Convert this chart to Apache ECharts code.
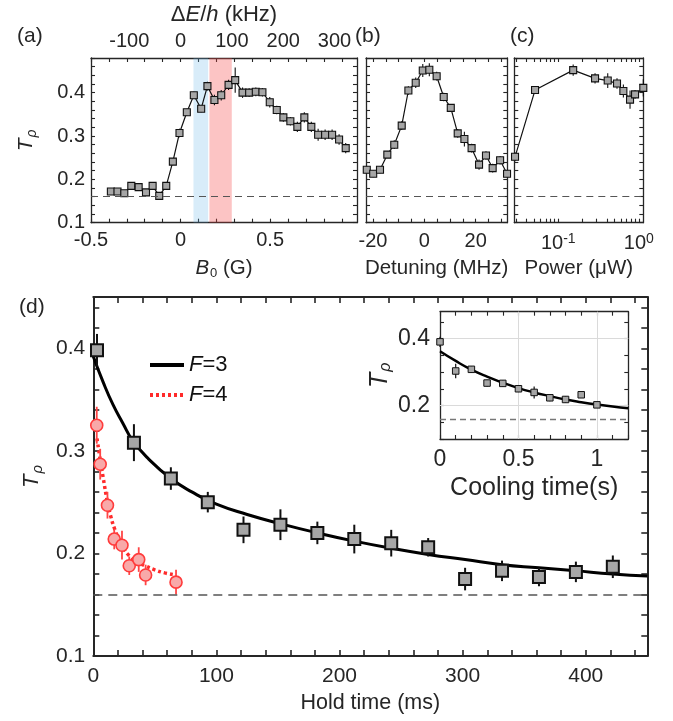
<!DOCTYPE html>
<html><head><meta charset="utf-8">
<script src="https://cdn.jsdelivr.net/npm/echarts@6/dist/echarts.min.js"></script>
<style>html,body{margin:0;padding:0;background:#fff}#c{width:673px;height:721px}</style>
</head><body><div id="c"></div>
<script>
// ---------------- data ----------------
// (a) T_p vs B0 (G)
const aB0 = [-0.389,-0.352,-0.314,-0.275,-0.234,-0.193,-0.156,-0.119,-0.080,-0.043,-0.006,0.035,0.074,0.115,0.150,0.189,0.227,0.268,0.305,0.346,0.383,0.420,0.457,0.498,0.537,0.574,0.613,0.652,0.691,0.730,0.768,0.807,0.846,0.885,0.922];
const aTp = [0.172,0.172,0.168,0.185,0.182,0.170,0.185,0.162,0.185,0.241,0.307,0.355,0.394,0.363,0.415,0.383,0.394,0.418,0.429,0.400,0.400,0.402,0.401,0.378,0.360,0.343,0.334,0.321,0.343,0.321,0.303,0.303,0.303,0.292,0.272];
const aErr = [0.004,0.004,0.004,0.006,0.005,0.005,0.006,0.006,0.008,0.008,0.010,0.008,0.008,0.008,0.010,0.012,0.012,0.012,0.029,0.012,0.010,0.010,0.010,0.012,0.010,0.010,0.010,0.012,0.012,0.012,0.014,0.012,0.012,0.012,0.012];
const blueBand = [0.072, 0.154];
const redBand = [0.161, 0.286];
const kHzPerGauss = 349;
// (b) T_p vs detuning (MHz)
const bDet = [-22.4,-19.9,-17.25,-14.4,-11.7,-8.8,-6.2,-3.35,-0.6,1.95,4.8,7.55,10.3,13.0,15.6,18.4,21.3,24.0,26.6,29.5,32.2];
const bTp = [0.222,0.213,0.222,0.257,0.280,0.324,0.405,0.423,0.451,0.453,0.438,0.390,0.365,0.306,0.293,0.272,0.234,0.255,0.226,0.244,0.213];
const bErr = [0.008,0.008,0.008,0.008,0.010,0.010,0.010,0.012,0.015,0.015,0.010,0.010,0.008,0.010,0.017,0.010,0.012,0.010,0.010,0.010,0.008];
// (c) T_p vs power (uW)
const cPow = [0.029,0.0514,0.153,0.286,0.411,0.536,0.643,0.778,0.898,1.137];
const cTp = [0.252,0.406,0.452,0.433,0.428,0.421,0.404,0.384,0.396,0.411];
const cErr = [0.010,0.008,0.013,0.012,0.017,0.012,0.015,0.021,0.010,0.020];
// (d) hold time
const dHold3 = [3,33,63,93,122,152,182,212,242,272,302,332,362,392,422];
const dTp3 = [0.398,0.308,0.273,0.250,0.223,0.228,0.220,0.214,0.210,0.206,0.175,0.183,0.177,0.182,0.187];
const dErr3 = [0.016,0.018,0.011,0.010,0.013,0.015,0.011,0.014,0.013,0.009,0.011,0.010,0.009,0.010,0.011];
const dFitT3 = [0,8,16,24,32,45,63,80,100,125,152,182,212,242,272,302,332,362,392,422,450];
const dFitTp3 = [0.392,0.367,0.345,0.327,0.310,0.292,0.273,0.260,0.248,0.238,0.229,0.220,0.212,0.205,0.199,0.194,0.189,0.186,0.183,0.180,0.178];
const dHold4 = [2.8,5.6,11.5,17,23.3,29.2,36.9,42.5,67.2];
const dTp4 = [0.325,0.287,0.247,0.214,0.208,0.188,0.194,0.179,0.172];
const dErr4 = [0.018,0.015,0.013,0.010,0.014,0.009,0.012,0.010,0.012];
const dFitT4 = [3,5,8,11.5,14,17,21,25,29,35,42,50,58,67];
const dFitTp4 = [0.312,0.296,0.274,0.250,0.237,0.225,0.213,0.204,0.198,0.192,0.188,0.184,0.181,0.179];
// inset: cooling time (s)
const insetT = [0,0.1,0.2,0.3,0.4,0.5,0.6,0.7,0.8,0.9,1.0];
const insetTp = [0.390,0.303,0.308,0.267,0.266,0.250,0.239,0.223,0.218,0.232,0.202];
const insetErr = [0.015,0.022,0.010,0.010,0.010,0.010,0.018,0.010,0.010,0.008,0.008];
const insetFitT = [0,0.1,0.2,0.3,0.4,0.5,0.6,0.7,0.8,0.9,1.0,1.1,1.2];
const insetFitTp = [0.362,0.333,0.307,0.286,0.268,0.252,0.239,0.228,0.218,0.210,0.203,0.197,0.192];
const baseline = 0.161;
// tick labels
const aXLabels = [-0.5, 0, 0.5];
const aYLabels = [0.1, 0.2, 0.3, 0.4];
const topKHzLabels = [-100, 0, 100, 200, 300];
const bXLabels = [-20, 0, 20];
const cXLabelsExp = [-1, 0];
const cMinorMantissa = [1,2,3,4,5,6,7,8,9];
const dXLabels = [0, 100, 200, 300, 400];
const dYLabels = [0.1, 0.2, 0.3, 0.4];
const insetXLabels = [0, 0.5, 1];
const insetYLabels = [0.2, 0.4];
const insetGridX = [0.5, 1];
const insetGridY = [0.2, 0.4];

// ---------------- helpers ----------------
const FONT = 'Liberation Sans, Arial, Helvetica, sans-serif';
const TXT = '#262626';
function rng(a, b, s) { const r = []; for (let k = 0; ; k++) { const v = +(a + k * s).toFixed(6); if (v > b + 1e-9) break; r.push(v); } return r; }
function axis(o) {
  return {
    type: 'value', gridIndex: o.grid, position: o.pos, min: o.min, max: o.max,
    axisLine: { show: o.line !== false, onZero: false, lineStyle: { color: TXT, width: o.lw || 1.3 } },
    axisTick: { show: !!o.ticks, inside: true, length: o.tl || 4, customValues: o.ticks, lineStyle: { color: TXT, width: o.lw ? o.lw * 0.8 : 1.1 } },
    axisLabel: { show: !!o.labels, customValues: o.labels, margin: o.margin || 8, fontSize: o.fs || 20, color: TXT, fontFamily: FONT, formatter: o.fmt, rich: o.rich },
    splitLine: { show: false },
    name: o.name, nameLocation: 'middle', nameGap: o.gap,
    nameTextStyle: o.nts
  };
}
function nameStyle(fs, sub) {
  return { fontSize: fs, color: TXT, fontFamily: FONT,
    rich: {
      i: { fontSize: fs, fontStyle: 'italic', color: TXT, fontFamily: FONT },
      r: { fontSize: fs, color: TXT, fontFamily: FONT },
      s: { fontSize: sub, fontStyle: 'italic', color: TXT, fontFamily: FONT, padding: [Math.round(sub * 0.75), 0, 0, 1] },
      n: { fontSize: sub, color: TXT, fontFamily: FONT, padding: [Math.round(sub * 0.75), 0, 0, 1] }
    } };
}
function errSeries(xi, yi, xs, ys, es, color, w, z, xf) {
  return {
    type: 'custom', xAxisIndex: xi, yAxisIndex: yi, z: z, silent: true,
    data: xs.map((x, i) => [xf ? xf(x) : x, ys[i], es[i]]),
    encode: { x: 0, y: 1 },
    renderItem: (p, api) => {
      const x = api.value(0), y = api.value(1), e = api.value(2);
      const a = api.coord([x, y - e]), b = api.coord([x, y + e]);
      return { type: 'line', shape: { x1: a[0], y1: a[1], x2: b[0], y2: b[1] }, style: { stroke: color, lineWidth: w } };
    }
  };
}
function baseMark(color, w, dash) {
  return { silent: true, symbol: ['none', 'none'], label: { show: false }, lineStyle: { color: color, width: w, type: dash }, emphasis: { disabled: true }, data: [{ yAxis: baseline }] };
}
const pair = (xs, ys, xf) => xs.map((x, i) => [xf ? xf(x) : x, ys[i]]);
const lg = v => Math.log10(v);

const cMin = lg(0.0284), cMax = lg(1.137);
const cTicks = [];
[-2, -1, 0].forEach(d => cMinorMantissa.forEach(m => { const v = lg(m * Math.pow(10, d)); if (v >= cMin && v <= cMax) cTicks.push(v); }));

// ---------------- grids ----------------
const grids = [
  { left: 91, top: 58, width: 266, height: 164.7 },
  { left: 366, top: 58, width: 141.3, height: 164.7 },
  { left: 514.3, top: 58, width: 129, height: 164.7 },
  { left: 93.3, top: 297, width: 554, height: 359 },
  { left: 440, top: 311.7, width: 188.3, height: 127.3, show: true, backgroundColor: '#fff', borderWidth: 0 }
];

const aXT = rng(-0.5, 0.98, 0.1), aYT = rng(0.1, 0.48, 0.02);
const bXT = rng(-20, 30, 5);
const dXT = rng(0, 440, 20), dYT = rng(0.1, 0.45, 0.02);
const iXT = rng(0, 1.2, 0.1), iYT = rng(0.1, 0.48, 0.05);

const xAxes = [
  axis({ grid: 0, pos: 'bottom', min: -0.5, max: 0.985, ticks: aXT, labels: aXLabels, margin: 8, name: '{i|B}{n|0}{r| (G)}', gap: 34, nts: nameStyle(20.5, 13) }),
  axis({ grid: 0, pos: 'top', min: -0.5, max: 0.985, ticks: aXT }),
  axis({ grid: 0, pos: 'top', min: -0.5 * kHzPerGauss, max: 0.985 * kHzPerGauss, line: false, labels: topKHzLabels, margin: 7, name: '{r|Δ}{i|E}{r|/}{i|h}{r| (kHz)}', gap: 32, nts: nameStyle(22, 14) }),
  axis({ grid: 1, pos: 'bottom', min: -22.7, max: 32.3, ticks: bXT, labels: bXLabels, margin: 9, name: 'Detuning (MHz)', gap: 35, nts: nameStyle(20.5, 13) }),
  axis({ grid: 1, pos: 'top', min: -22.7, max: 32.3, ticks: bXT }),
  axis({ grid: 2, pos: 'bottom', min: cMin, max: cMax, ticks: cTicks, labels: cXLabelsExp, margin: 9, fmt: v => '10{sup|' + v + '}', rich: { sup: { fontSize: 14, color: TXT, fontFamily: FONT, padding: [0, 0, 10, 0] } }, name: 'Power (μW)', gap: 35, nts: nameStyle(20.5, 13) }),
  axis({ grid: 2, pos: 'top', min: cMin, max: cMax, ticks: cTicks }),
  axis({ grid: 3, pos: 'bottom', min: 0, max: 450, ticks: dXT, labels: dXLabels, lw: 2, tl: 6, fs: 21, margin: 10, name: 'Hold time (ms)', gap: 36, nts: nameStyle(21.5, 14) }),
  axis({ grid: 3, pos: 'top', min: 0, max: 450, ticks: dXT, lw: 2, tl: 6 }),
  axis({ grid: 4, pos: 'bottom', min: 0, max: 1.2, ticks: iXT, labels: insetXLabels, fs: 23, margin: 9, name: 'Cooling time(s)', gap: 37, nts: nameStyle(25, 16) }),
  axis({ grid: 4, pos: 'top', min: 0, max: 1.2, ticks: iXT })
];
const yAxes = [
  axis({ grid: 0, pos: 'left', min: 0.1, max: 0.48, ticks: aYT, labels: aYLabels, margin: 6, name: '{i|T}{s|ρ}', gap: 52, nts: nameStyle(21, 14) }),
  axis({ grid: 0, pos: 'right', min: 0.1, max: 0.48, ticks: aYT }),
  axis({ grid: 1, pos: 'left', min: 0.1, max: 0.48, ticks: aYT }),
  axis({ grid: 1, pos: 'right', min: 0.1, max: 0.48, ticks: aYT }),
  axis({ grid: 2, pos: 'left', min: 0.1, max: 0.48, ticks: aYT }),
  axis({ grid: 2, pos: 'right', min: 0.1, max: 0.48, ticks: aYT }),
  axis({ grid: 3, pos: 'left', min: 0.1, max: 0.45, ticks: dYT, labels: dYLabels, lw: 2, tl: 6, fs: 21, margin: 8, name: '{i|T}{s|ρ}', gap: 45, nts: nameStyle(22, 15) }),
  axis({ grid: 3, pos: 'right', min: 0.1, max: 0.45, ticks: dYT, lw: 2, tl: 6 }),
  axis({ grid: 4, pos: 'left', min: 0.1, max: 0.48, ticks: iYT, labels: insetYLabels, fs: 23, margin: 10, name: '{i|T}{s|ρ}', gap: 46, nts: nameStyle(25, 16) }),
  axis({ grid: 4, pos: 'right', min: 0.1, max: 0.48, ticks: iYT })
];

const gray = '#a6a6a6';
const series = [
  // (a)
  errSeries(0, 0, aB0, aTp, aErr, '#111', 1.1, 2),
  { type: 'line', xAxisIndex: 0, yAxisIndex: 0, z: 3, data: pair(aB0, aTp), showAllSymbol: true, symbol: 'rect', symbolSize: 7,
    lineStyle: { color: '#111', width: 1.2 }, itemStyle: { color: gray, borderColor: '#111', borderWidth: 1.1 }, markLine: baseMark('#555', 1.2, [7, 5]) },
  { type: 'line', xAxisIndex: 0, yAxisIndex: 0, z: 10, data: [], silent: true,
    markArea: { silent: true, data: [
      [{ xAxis: blueBand[0], itemStyle: { color: 'rgba(100,180,230,0.25)' } }, { xAxis: blueBand[1] }],
      [{ xAxis: redBand[0], itemStyle: { color: 'rgba(245,70,70,0.32)' } }, { xAxis: redBand[1] }]
    ] } },
  // (b)
  errSeries(3, 2, bDet, bTp, bErr, '#111', 1.1, 2),
  { type: 'line', xAxisIndex: 3, yAxisIndex: 2, z: 3, data: pair(bDet, bTp), showAllSymbol: true, symbol: 'rect', symbolSize: 7,
    lineStyle: { color: '#111', width: 1.2 }, itemStyle: { color: gray, borderColor: '#111', borderWidth: 1.1 }, markLine: baseMark('#555', 1.2, [7, 5]) },
  // (c)
  errSeries(5, 4, cPow, cTp, cErr, '#111', 1.1, 2, lg),
  { type: 'line', xAxisIndex: 5, yAxisIndex: 4, z: 3, data: pair(cPow, cTp, lg), showAllSymbol: true, symbol: 'rect', symbolSize: 7,
    lineStyle: { color: '#111', width: 1.2 }, itemStyle: { color: gray, borderColor: '#111', borderWidth: 1.1 }, markLine: baseMark('#555', 1.2, [7, 5]) },
  // (d)
  { name: 'F=3', type: 'line', xAxisIndex: 7, yAxisIndex: 6, z: 3, data: pair(dFitT3, dFitTp3), smooth: true, symbol: 'none',
    lineStyle: { color: '#000', width: 3 }, itemStyle: { color: '#000' }, markLine: baseMark('#555', 1.6, [9, 6]) },
  errSeries(7, 6, dHold3, dTp3, dErr3, '#111', 2, 4),
  { type: 'scatter', xAxisIndex: 7, yAxisIndex: 6, z: 5, data: pair(dHold3, dTp3), symbol: 'rect', symbolSize: 12,
    itemStyle: { color: gray, borderColor: '#111', borderWidth: 2, opacity: 1 } },
  { name: 'F=4', type: 'line', xAxisIndex: 7, yAxisIndex: 6, z: 3, data: pair(dFitT4, dFitTp4), smooth: true, symbol: 'none',
    lineStyle: { color: '#ff2a2a', width: 3.5, type: [3, 3] }, itemStyle: { color: '#ff2a2a' } },
  errSeries(7, 6, dHold4, dTp4, dErr4, '#ff4545', 1.8, 4),
  { type: 'scatter', xAxisIndex: 7, yAxisIndex: 6, z: 5, data: pair(dHold4, dTp4), symbol: 'circle', symbolSize: 12,
    itemStyle: { color: '#f8a9a9', borderColor: '#ff3b3b', borderWidth: 1.6, opacity: 1 } },
  // inset
  { type: 'line', xAxisIndex: 9, yAxisIndex: 8, z: 6, data: [], silent: true,
    markLine: { silent: true, symbol: ['none', 'none'], label: { show: false }, lineStyle: { color: '#dadada', width: 1, type: 'solid' },
      data: insetGridX.map(v => ({ xAxis: v })).concat(insetGridY.map(v => ({ yAxis: v }))) } },
  { type: 'line', xAxisIndex: 9, yAxisIndex: 8, z: 7, data: pair(insetFitT, insetFitTp), smooth: true, symbol: 'none',
    lineStyle: { color: '#000', width: 2.5 }, markLine: baseMark('#777', 1.3, [6, 4]) },
  errSeries(9, 8, insetT, insetTp, insetErr, '#111', 1.2, 8),
  { type: 'scatter', xAxisIndex: 9, yAxisIndex: 8, z: 9, data: pair(insetT, insetTp), symbol: 'rect', symbolSize: 6.5,
    itemStyle: { color: gray, borderColor: '#111', borderWidth: 1, opacity: 1 } }
];

const labelStyle = { fontSize: 21, fontWeight: 'normal', color: TXT, fontFamily: FONT };
const option = {
  animation: false,
  backgroundColor: '#fff',
  title: [
    { text: '(a)', left: 17, top: 26, padding: 0, textStyle: labelStyle },
    { text: '(b)', left: 355, top: 26, padding: 0, textStyle: labelStyle },
    { text: '(c)', left: 510, top: 26, padding: 0, textStyle: labelStyle },
    { text: '(d)', left: 19, top: 297, padding: 0, textStyle: labelStyle }
  ],
  legend: {
    data: ['F=3', 'F=4'], orient: 'vertical', left: 148, top: 354, padding: 0,
    itemWidth: 34, itemHeight: 14, itemGap: 8, selectedMode: false,
    itemStyle: { color: 'rgba(0,0,0,0)', borderWidth: 0, opacity: 0 },
    lineStyle: { width: 4 },
    formatter: n => '{i|F}{r|' + n.slice(1) + '}',
    textStyle: { fontSize: 22, color: '#111', fontFamily: FONT,
      rich: { i: { fontSize: 22, fontStyle: 'italic', color: '#111', fontFamily: FONT }, r: { fontSize: 22, color: '#111', fontFamily: FONT } } }
  },
  grid: grids,
  xAxis: xAxes,
  yAxis: yAxes,
  series: series
};
const chart = echarts.init(document.getElementById('c'), null, { renderer: 'canvas' });
chart.setOption(option);
</script>
</body></html>
